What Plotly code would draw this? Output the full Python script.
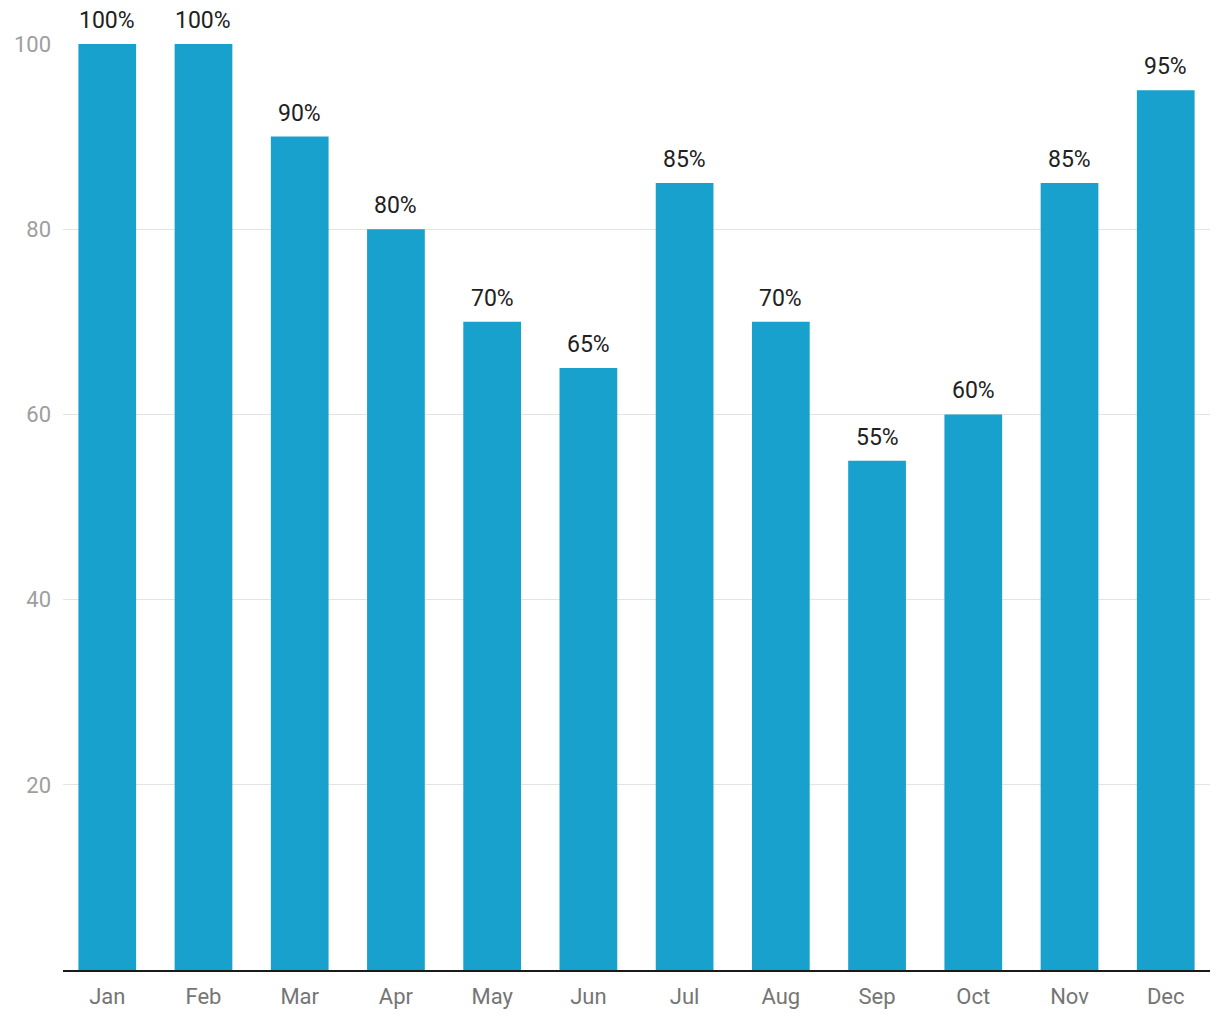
import plotly.graph_objects as go

months = ["Jan", "Feb", "Mar", "Apr", "May", "Jun", "Jul", "Aug", "Sep", "Oct", "Nov", "Dec"]
values = [100, 100, 90, 80, 70, 65, 85, 70, 55, 60, 85, 95]
labels = [f"{v}%" for v in values]
y_ticks = [20, 40, 60, 80, 100]

fig = go.Figure(
    go.Bar(
        x=months,
        y=values,
        marker=dict(color="#19a1cd", line=dict(width=0)),
        cliponaxis=False,
        hoverinfo="skip",
    )
)

for m, v, t in zip(months, values, labels):
    fig.add_annotation(
        x=m, y=v, text=t, showarrow=False,
        xanchor="center", yanchor="bottom", yshift=9, borderpad=0,
        font=dict(family="Roboto", size=23, color="#212121"),
    )

fig.update_layout(
    width=1204,
    height=1004,
    margin=dict(l=55, r=2, t=36, b=42, autoexpand=False),
    paper_bgcolor="white",
    plot_bgcolor="white",
    bargap=0.4,
    showlegend=False,
    font=dict(family="Roboto"),
)
fig.update_xaxes(
    range=[-0.46, 11.46],
    showgrid=False,
    showline=True,
    linecolor="#1a1a1a",
    linewidth=2,
    ticks="",
    automargin=False,
    tickfont=dict(family="Roboto", size=22, color="#757575"),
    ticklabelstandoff=6,
)
fig.update_yaxes(
    range=[0, 100],
    tickvals=y_ticks,
    showgrid=True,
    gridcolor="#e3e3e3",
    gridwidth=1,
    zeroline=False,
    showline=False,
    ticks="",
    automargin=False,
    tickfont=dict(family="Roboto", size=22, color="#9e9e9e"),
    ticklabelstandoff=11,
)

fig.write_html("out.html")
